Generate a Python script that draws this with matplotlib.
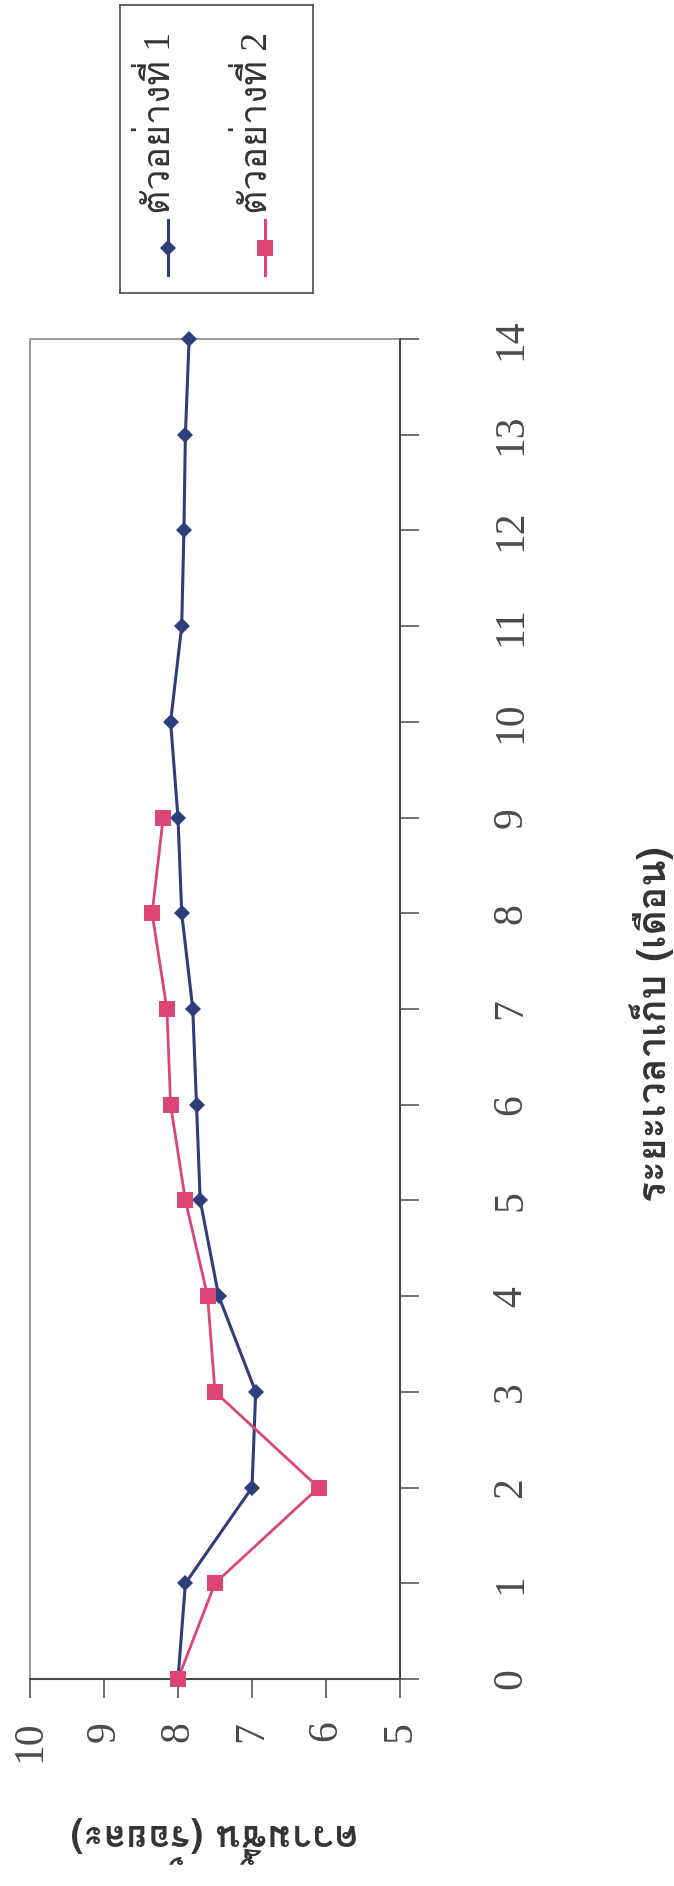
import matplotlib
matplotlib.use('Agg')
import matplotlib.pyplot as plt
from matplotlib import font_manager
from matplotlib.ft2font import FT2Font
from matplotlib.lines import Line2D

months = list(range(15))
sample1 = [8.0, 7.9, 7.0, 6.95, 7.45, 7.7, 7.75, 7.8, 7.95, 8.0, 8.1, 7.95, 7.92, 7.9, 7.85]
months2 = list(range(10))
sample2 = [8.0, 7.5, 6.1, 7.5, 7.6, 7.9, 8.1, 8.15, 8.35, 8.2]
series_names = ['ตัวอย่างที่ 1', 'ตัวอย่างที่ 2']
xlabel_text = 'ระยะเวลาเก็บ (เดือน)'
ylabel_text = 'ความชื้น (ร้อยละ)'

BLUE = '#2c3e7c'
PINK = '#dc4674'
AXIS = '#4a4a4a'


def find_thai_font():
    # pick the first installed family that actually has Thai glyphs
    for f in font_manager.fontManager.ttflist:
        try:
            cmap = FT2Font(f.fname).get_charmap()
        except Exception:
            continue
        if 0x0E01 in cmap and 0x0E49 in cmap:
            return f.name
    return 'DejaVu Sans'


thai = find_thai_font()
serif = ['Liberation Serif', thai]
sans = [thai, 'Liberation Serif']

W, H = 674, 1886
fig = plt.figure(figsize=(W / 100, H / 100), dpi=100)
fig.patch.set_facecolor('white')

# plot area, laid out on its side: months run bottom to top, values right to left
L, R, T, B = 30, 400, 339, 1679
ax = fig.add_axes([L / W, 1 - B / H, (R - L) / W, (B - T) / H])

ax.plot(sample1, months, color=BLUE, lw=2.2, marker='D', ms=8, mew=0,
        clip_on=False, zorder=3)
ax.plot(sample2, months2, color=PINK, lw=2.0, marker='s', ms=11, mew=0,
        clip_on=False, zorder=4)

ax.set_xlim(10, 5)
ax.set_ylim(0, 14)
ax.set_xticks(range(5, 11))
ax.set_yticks(months)
ax.yaxis.tick_right()

ax.tick_params(axis='x', direction='out', length=14, width=1.1, color=AXIS,
               pad=16, labelsize=30, labelcolor=AXIS, labelrotation=90)
ax.tick_params(axis='y', direction='out', length=14, width=1.1, color=AXIS,
               pad=52, labelsize=30, labelcolor=AXIS, labelrotation=90)
for lab in ax.get_xticklabels() + ax.get_yticklabels():
    lab.set_family(serif)
for lab in ax.get_yticklabels():
    lab.set_va('center')

ax.spines['right'].set_color(AXIS)
ax.spines['right'].set_linewidth(1.5)
ax.spines['bottom'].set_color(AXIS)
ax.spines['bottom'].set_linewidth(1.5)
ax.spines['bottom'].set_linestyle((0, (1, 1)))
for side in ['left', 'top']:
    ax.spines[side].set_color('#8a8a8a')
    ax.spines[side].set_linewidth(1.2)
    ax.spines[side].set_linestyle((0, (1, 1)))

ax.set_xlabel(ylabel_text, family=sans, fontsize=27, fontweight='bold',
              color='#333333', rotation=180, va='center', ha='center')
ax.xaxis.set_label_coords(0.5, -0.12)
ax.yaxis.set_label_position('right')
ax.set_ylabel(xlabel_text, family=sans, fontsize=28, fontweight='bold',
              color='#333333', rotation=90, va='center', ha='center')
ax.yaxis.set_label_coords(1.681, 0.489)

# legend box above the plot, entries turned on their side as well
lx0, lx1, ly0, ly1 = 120, 313, 5, 293
lax = fig.add_axes([lx0 / W, 1 - ly1 / H, (lx1 - lx0) / W, (ly1 - ly0) / H])
lax.set_xlim(lx0, lx1)
lax.set_ylim(ly1, ly0)
lax.set_xticks([])
lax.set_yticks([])
for s in lax.spines.values():
    s.set_color(AXIS)
    s.set_linewidth(1.2)

for x, name, color, mk, ms in [(168, series_names[0], BLUE, 'D', 8),
                               (265, series_names[1], PINK, 's', 11)]:
    lax.add_line(Line2D([x, x], [220, 275], color=color, lw=2.2))
    lax.plot([x], [248], marker=mk, ms=ms, color=color, mew=0)
    lax.text(x - 9, 214, name, rotation=90, ha='center', va='bottom',
             family=serif, fontsize=27, color='#333333')

fig.savefig('out.png', dpi=100, facecolor='white')
